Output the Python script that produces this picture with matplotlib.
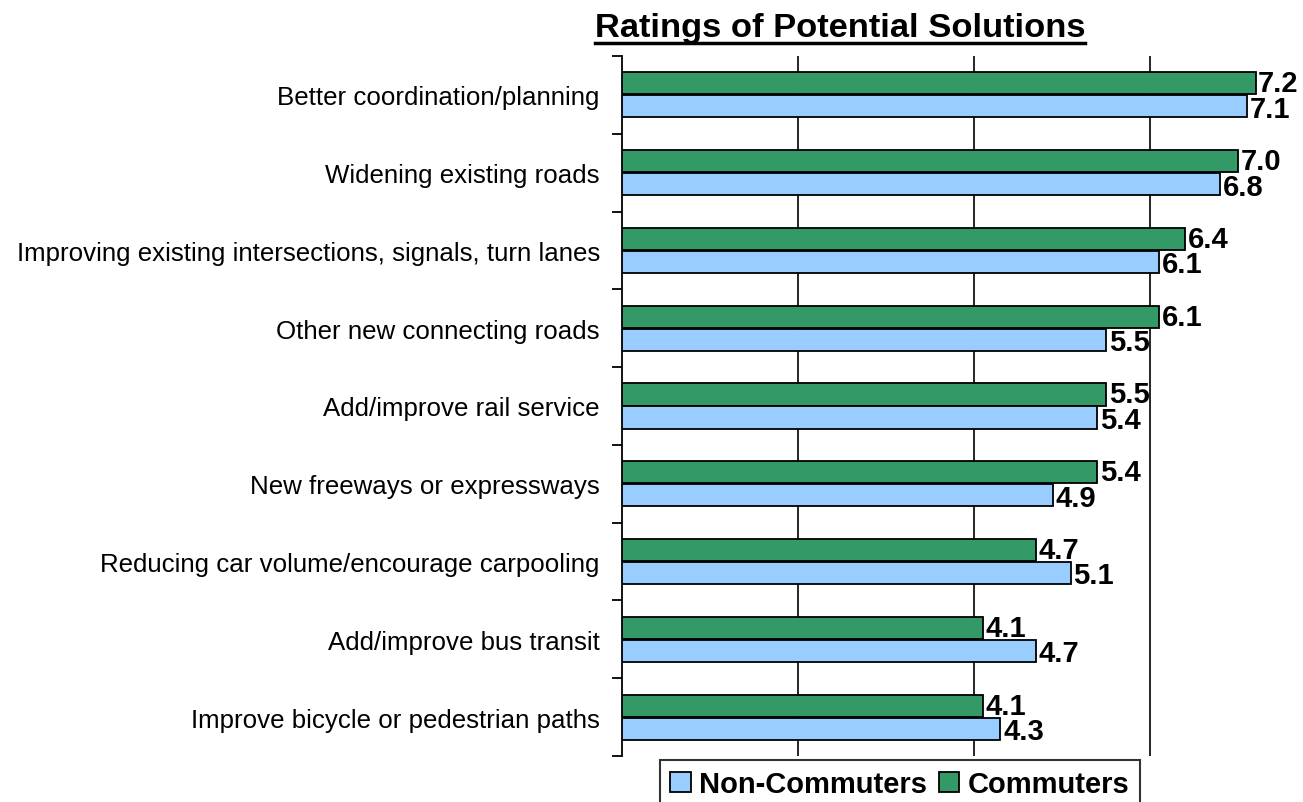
import matplotlib
matplotlib.use("Agg")
import matplotlib.pyplot as plt
from matplotlib.patches import Patch
from matplotlib.lines import Line2D
import numpy as np

plt.rcParams['font.family'] = ['Liberation Sans', 'DejaVu Sans']

categories = [
    "Better coordination/planning",
    "Widening existing roads",
    "Improving existing intersections, signals, turn lanes",
    "Other new connecting roads",
    "Add/improve rail service",
    "New freeways or expressways",
    "Reducing car volume/encourage carpooling",
    "Add/improve bus transit",
    "Improve bicycle or pedestrian paths",
]
commuters = [7.2, 7.0, 6.4, 6.1, 5.5, 5.4, 4.7, 4.1, 4.1]
non_commuters = [7.1, 6.8, 6.1, 5.5, 5.4, 4.9, 5.1, 4.7, 4.3]
gridlines = [2, 4, 6]

GREEN = "#339966"
BLUE = "#99CCFF"

W, H = 1303, 803
fig = plt.figure(figsize=(W / 100, H / 100), dpi=100)
left, right, top, bottom = 622, 1303, 57, 757
ax = fig.add_axes([left / W, 1 - bottom / H, (right - left) / W, (bottom - top) / H])

y = np.arange(len(categories))
bh = 0.285
off = 0.148
ax.barh(y - off, commuters, height=bh, color=GREEN, edgecolor="black", linewidth=1.3, zorder=3)
ax.barh(y + off, non_commuters, height=bh, color=BLUE, edgecolor="black", linewidth=1.3, zorder=3)

for i, (c, n) in enumerate(zip(commuters, non_commuters)):
    ax.text(c + 0.03, i - off, f"{c:.1f}", va="center", ha="left",
            fontsize=21, fontweight="bold", zorder=4)
    ax.text(n + 0.03, i + off + 0.03, f"{n:.1f}", va="center", ha="left",
            fontsize=21, fontweight="bold", zorder=4)

ax.set_xlim(0, (right - left) / 88.0)
ax.set_ylim(len(categories) - 0.5, -0.5)

for g in gridlines:
    ax.axvline(g, color="black", linewidth=1.2, zorder=1)

for s in ["top", "right", "bottom"]:
    ax.spines[s].set_visible(False)
ax.spines["left"].set_linewidth(1.3)
ax.set_xticks([])

ax.set_yticks(y)
ax.set_yticklabels(categories, fontsize=18.6)
ax.tick_params(axis="y", which="major", length=0, pad=16)
ax.set_yticks(np.arange(-0.5, len(categories)), minor=True)
ax.tick_params(axis="y", which="minor", length=7, width=1.3, direction="out")

# Title with underline
title = fig.text(840 / W, 1 - 28 / H, "Ratings of Potential Solutions", ha="center", va="center",
                 fontsize=24.8, fontweight="bold")
fig.canvas.draw()
bb = title.get_window_extent(renderer=fig.canvas.get_renderer())
uy = bb.y0 / (H) + 0.0
fig.add_artist(Line2D([bb.x0 / W, bb.x1 / W], [uy, uy], color="black", linewidth=2.5,
                      transform=fig.transFigure))

handles = [Patch(facecolor=BLUE, edgecolor="black", linewidth=1.3, label="Non-Commuters"),
           Patch(facecolor=GREEN, edgecolor="black", linewidth=1.3, label="Commuters")]
leg = fig.legend(handles=handles, loc="upper center", bbox_to_anchor=(900 / W, 1 - 761 / H),
                 ncol=2, frameon=True, fancybox=False, edgecolor="black",
                 prop={"size": 21, "weight": "bold"}, handlelength=0.7, handleheight=0.7,
                 handletextpad=0.3, columnspacing=0.4, borderpad=0.35, borderaxespad=0)
leg.get_frame().set_linewidth(1.5)

fig.savefig("out.png", dpi=100)
